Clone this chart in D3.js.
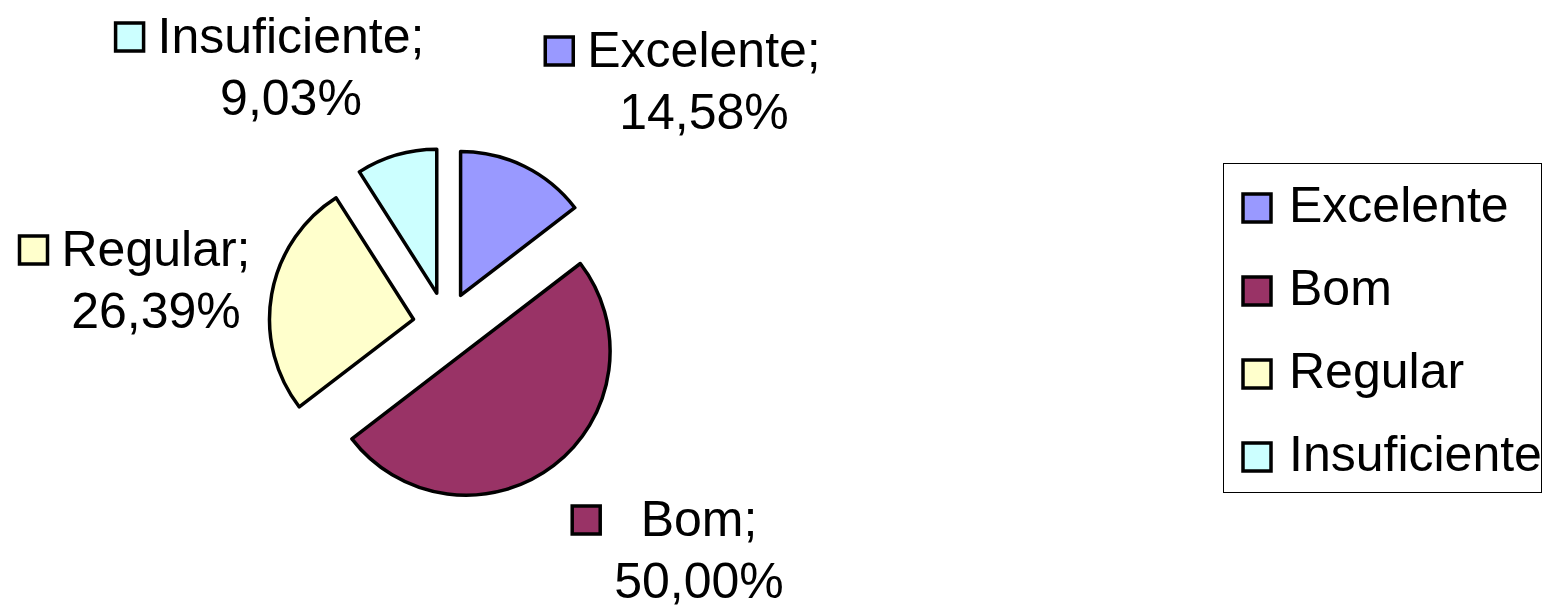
<!DOCTYPE html>
<html>
<head>
<meta charset="utf-8">
<script src="https://cdn.jsdelivr.net/npm/d3@7"></script>
<style>
  body { margin: 0; background: #fff; }
  text { font-family: "Liberation Sans", Arial, sans-serif; fill: #000; }
</style>
</head>
<body>
<script>
// chart data
const categories = ['Excelente', 'Bom', 'Regular', 'Insuficiente'];
const percents = [14.58, 50.00, 26.39, 9.03];
const colors = ['#9999FF', '#993366', '#FFFFCC', '#CCFFFF'];

const width = 1542, height = 610;
const center = { 'x': 446, 'y': 325 };
const radius = 144;
const explode = 33;
const fontSize = 50;
const lineGap = 62;

// where each data label block sits (center x, first baseline)
const labelPos = {
    'Excelente': [704, 67],
    'Bom': [699, 536],
    'Regular': [156, 266],
    'Insuficiente': [291, 53]
};

const data = categories.map((c, i) => ({ 'name': c, 'value': percents[i], 'color': colors[i] }));
const fmt = v => d3.format('.2f')(v).replace('.', ',') + '%';

const svg = d3.select('body').append('svg')
    .attr('width', width)
    .attr('height', height);

let pie = d3.pie().sort(null).value(d => d.value);
let arc = d3.arc().innerRadius(0).outerRadius(radius);

svg.append('g')
    .attr('transform', 'translate(' + center.x + ',' + center.y + ')')
    .selectAll('path')
    .data(pie(data))
    .enter()
    .append('path')
    .attr('transform', d => {
        let mid = (d.startAngle + d.endAngle) / 2;
        return 'translate(' + (explode * Math.sin(mid)) + ',' + (-explode * Math.cos(mid)) + ')';
    })
    .attr('d', arc)
    .attr('fill', d => d.data.color)
    .attr('stroke', '#000')
    .attr('stroke-width', 3.5)
    .attr('stroke-linejoin', 'round');

// data labels with legend key
data.forEach(d => {
    let [cx, y1] = labelPos[d.name];
    let g = svg.append('g');
    let t1 = g.append('text')
        .attr('x', cx).attr('y', y1)
        .attr('text-anchor', 'middle')
        .style('font-size', fontSize + 'px')
        .text(d.name + ';');
    let t2 = g.append('text')
        .attr('x', cx).attr('y', y1 + lineGap)
        .attr('text-anchor', 'middle')
        .style('font-size', fontSize + 'px')
        .text(fmt(d.value));
    let w = Math.max(t1.node().getComputedTextLength(), t2.node().getComputedTextLength());
    let left = cx - w / 2;
    g.append('rect')
        .attr('x', left - 14 - 28)
        .attr('y', y1 - 16 - 14)
        .attr('width', 28)
        .attr('height', 28)
        .attr('fill', d.color)
        .attr('stroke', '#000')
        .attr('stroke-width', 3.5);
});

// legend
let legend = svg.append('g');
legend.append('rect')
    .attr('x', 1223.5).attr('y', 163.5)
    .attr('width', 318).attr('height', 329)
    .attr('fill', 'none')
    .attr('stroke', '#000')
    .attr('stroke-width', 1);

let legendY = d3.scalePoint().domain(categories).range([208, 457]);

let items = legend.selectAll('g.item')
    .data(data)
    .enter()
    .append('g')
    .attr('class', 'item')
    .attr('transform', d => 'translate(0,' + legendY(d.name) + ')');

items.append('rect')
    .attr('x', 1243).attr('y', -14)
    .attr('width', 28).attr('height', 28)
    .attr('fill', d => d.color)
    .attr('stroke', '#000')
    .attr('stroke-width', 3.5);

items.append('text')
    .attr('x', 1289).attr('y', 14)
    .style('font-size', fontSize + 'px')
    .text(d => d.name);
</script>
</body>
</html>
